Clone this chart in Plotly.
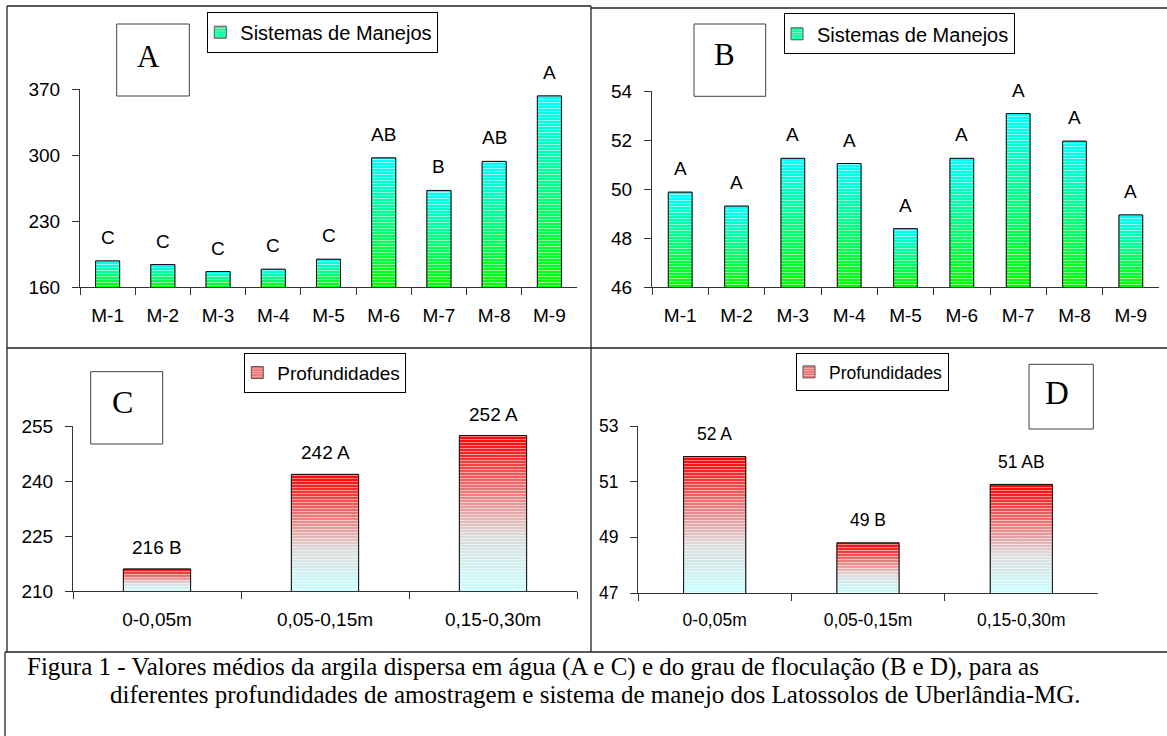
import plotly.graph_objects as go

W, H = 1167, 736

# ---------------- data ----------------
sistemas = ['M-1', 'M-2', 'M-3', 'M-4', 'M-5', 'M-6', 'M-7', 'M-8', 'M-9']
argila_sistemas = [187.6, 183.8, 176.4, 178.8, 189.4, 296.9, 262.4, 293.2, 362.6]
letras_argila_sistemas = ['C', 'C', 'C', 'C', 'C', 'AB', 'B', 'AB', 'A']
floculacao_sistemas = [49.87, 49.30, 51.25, 51.04, 48.38, 51.25, 53.08, 51.95, 48.94]
letras_floculacao_sistemas = ['A', 'A', 'A', 'A', 'A', 'A', 'A', 'A', 'A']

profundidades = ['0-0,05m', '0,05-0,15m', '0,15-0,30m']
argila_prof = [216.0, 241.8, 252.4]
letras_argila_prof = ['B', 'A', 'A']
floculacao_prof = [51.9, 48.8, 50.9]
letras_floculacao_prof = ['A', 'B', 'AB']

ticks_A = [160, 230, 300, 370]
ticks_B = [46, 48, 50, 52, 54]
ticks_C = [210, 225, 240, 255]
ticks_D = [47, 49, 51, 53]

caption_1 = ('Figura 1 - Valores médios da argila dispersa em água (A e C) e do grau '
             'de floculação (B e D), para as')
caption_2 = ('diferentes profundidades de amostragem e sistema de manejo dos '
             'Latossolos de Uberlândia-MG.')

SANS = 'Liberation Sans, Arial, sans-serif'
SERIF = 'Liberation Serif, Times New Roman, serif'

GREEN_CYAN = [[0, '#00ff00'], [1, '#00ffff']]
RED_CYAN = [[0, '#c8ffff'], [0.35, '#dcdcdc'], [1, '#ff0000']]


def fx(px):
    return px / W


def fy(py):
    return 1 - py / H


panels = [
    dict(cats=sistemas, vals=argila_sistemas, labels=letras_argila_sistemas,
         ticks=ticks_A, xd=(80, 577), yd=(89, 287), width=0.435,
         fs=19, cs=GREEN_CYAN, mid='#00ff99', name='Sistemas de Manejos',
         leg=(207.3, 11.7), legfs=20, gap=23.5, box=(116.7, 24, 189.3, 96),
         letter='A', lpos=(148, 56), lfs=31, show_value=False),
    dict(cats=sistemas, vals=floculacao_sistemas, labels=letras_floculacao_sistemas,
         ticks=ticks_B, xd=(652, 1159), yd=(91, 287), width=0.42,
         fs=19, cs=GREEN_CYAN, mid='#00ff99', name='Sistemas de Manejos',
         leg=(784, 13.3), legfs=20, gap=23.5, box=(694, 24, 765.7, 96.3),
         letter='B', lpos=(724.3, 55), lfs=31, show_value=False),
    dict(cats=profundidades, vals=argila_prof, labels=letras_argila_prof,
         ticks=ticks_C, xd=(73, 577), yd=(426, 591), width=0.40,
         fs=19, cs=RED_CYAN, mid='#f07070', name='Profundidades',
         leg=(244.3, 352.7), legfs=19, gap=21.5, box=(90.7, 371.7, 162.7, 444),
         letter='C', lpos=(122.7, 401.7), lfs=32, show_value=True),
    dict(cats=profundidades, vals=floculacao_prof, labels=letras_floculacao_prof,
         ticks=ticks_D, xd=(638, 1098), yd=(426, 593), width=0.405,
         fs=17.5, cs=RED_CYAN, mid='#f07070', name='Profundidades',
         leg=(796, 353), legfs=17.5, gap=22.7, box=(1029, 364.3, 1093.3, 429),
         letter='D', lpos=(1057.3, 393.3), lfs=33, show_value=True),
]


def stripes(bg):
    return dict(shape='-', fgcolor='white', bgcolor=bg, size=3,
                solidity=0.34, fillmode='overlay')


fig = go.Figure()
layout = dict(width=W, height=H,
              margin=dict(l=0, r=0, t=0, b=0, pad=0, autoexpand=False),
              paper_bgcolor='white', plot_bgcolor='rgba(0,0,0,0)',
              font=dict(family=SANS, color='black'), showlegend=True)
annotations = []
shapes = []

for k, p in enumerate(panels, start=1):
    kb = '' if k == 1 else str(k)          # base axes (gradient fills)
    ko = str(k + 4)                         # overlay axes (bars, ticks)
    ymin, ymax = p['ticks'][0], p['ticks'][-1]
    n = len(p['cats'])
    idx = list(range(n))
    leg_id = 'legend' if k == 1 else f'legend{k}'
    w = p['width']

    # base axes: hidden numeric axes holding the gradient fills
    layout['xaxis' + kb] = dict(domain=[fx(p['xd'][0]), fx(p['xd'][1])],
                                range=[-0.5, n - 0.5], visible=False,
                                anchor='y' + kb, fixedrange=True)
    layout['yaxis' + kb] = dict(domain=[fy(p['yd'][1]), fy(p['yd'][0])],
                                range=[ymin, ymax], visible=False,
                                anchor='x' + kb, fixedrange=True)
    # overlay axes: categorical axis with bars and visible ticks
    layout['xaxis' + ko] = dict(overlaying='x' + kb, anchor='y' + ko,
                                type='category', range=[-0.5, n - 0.5],
                                showline=True, linecolor='#333', linewidth=1,
                                ticks='outside', ticklen=7, tickcolor='#333',
                                tickson='boundaries', showgrid=False,
                                zeroline=False, ticklabelstandoff=11,
                                automargin=False,
                                tickfont=dict(size=p['fs'], family=SANS, color='black'),
                                fixedrange=True)
    layout['yaxis' + ko] = dict(overlaying='y' + kb, anchor='x' + ko,
                                range=[ymin, ymax], tickvals=p['ticks'],
                                showline=True, linecolor='#333', linewidth=1,
                                ticks='outside', ticklen=7, tickcolor='#333',
                                showgrid=False, zeroline=False,
                                ticklabelstandoff=8, automargin=False,
                                tickfont=dict(size=p['fs'], family=SANS, color='black'),
                                fixedrange=True)

    # legend entry: striped coloured bars lying underneath the gradient bodies
    fig.add_trace(go.Bar(
        x=idx, y=p['vals'], width=w,
        marker=dict(color=p['mid'], line=dict(color='#555', width=1),
                    pattern=stripes(p['mid'])),
        xaxis='x' + kb, yaxis='y' + kb, name=p['name'], legend=leg_id,
        hoverinfo='skip', showlegend=True))

    # gradient body of each bar
    for i, v in enumerate(p['vals']):
        fig.add_trace(go.Scatter(
            x=[i - w / 2, i + w / 2, i + w / 2, i - w / 2, i - w / 2],
            y=[ymin, ymin, v, v, ymin],
            fill='toself', mode='lines', line=dict(width=0, color=p['mid']),
            fillcolor=p['mid'],
            fillgradient=dict(type='vertical', colorscale=p['cs']),
            xaxis='x' + kb, yaxis='y' + kb, hoverinfo='skip',
            name=p['name'], legend=leg_id, showlegend=False))

    # bars: outline + white stripes on top of gradient
    fig.add_trace(go.Bar(
        x=p['cats'], y=p['vals'], width=w,
        marker=dict(color='rgba(0,0,0,0)', line=dict(color='#111', width=1),
                    pattern=stripes('rgba(0,0,0,0)')),
        xaxis='x' + ko, yaxis='y' + ko, name=p['name'], legend=leg_id,
        showlegend=False))

    # labels above bars
    for c, v, lab in zip(p['cats'], p['vals'], p['labels']):
        txt = f'{round(v)} {lab}' if p['show_value'] else lab
        annotations.append(dict(xref='x' + ko, yref='y' + ko, x=c, y=v,
                                yshift=p['gap'], text=txt, showarrow=False,
                                yanchor='middle', xanchor='center',
                                font=dict(size=p['fs'], family=SANS, color='black')))

    # legend
    layout[leg_id] = dict(x=fx(p['leg'][0]), y=fy(p['leg'][1]),
                          xanchor='left', yanchor='top', bgcolor='white',
                          bordercolor='black', borderwidth=1, itemwidth=30,
                          indentation=-8,
                          font=dict(size=p['legfs'], family=SANS, color='black'))

    # panel letter box
    bx0, by0, bx1, by1 = p['box']
    shapes.append(dict(type='rect', xref='paper', yref='paper',
                       x0=fx(bx0), x1=fx(bx1), y0=fy(by1), y1=fy(by0),
                       line=dict(color='#404040', width=1), fillcolor='white',
                       layer='above'))
    annotations.append(dict(xref='paper', yref='paper', x=fx(p['lpos'][0]),
                            y=fy(p['lpos'][1]), text=p['letter'], showarrow=False,
                            xanchor='center', yanchor='middle',
                            font=dict(size=p['lfs'], family=SERIF, color='black')))

# panel frames
frame = dict(color='#222', width=1.3)
for (x0, y0, x1, y1) in [
        (7, 6, 591, 6), (591, 8, 1167, 8), (7, 6, 7, 348), (591, 6, 591, 652),
        (7, 348, 1167, 348), (7, 348, 7, 652), (5, 652, 1167, 652),
        (5, 652, 5, 736)]:
    shapes.append(dict(type='line', xref='paper', yref='paper',
                       x0=fx(x0), x1=fx(x1), y0=fy(y0), y1=fy(y1), line=frame))

# caption
annotations.append(dict(xref='paper', yref='paper', x=fx(25), y=fy(667),
                        text=caption_1, showarrow=False, xanchor='left',
                        yanchor='middle', font=dict(size=25, family=SERIF, color='black')))
annotations.append(dict(xref='paper', yref='paper', x=fx(108), y=fy(694),
                        text=caption_2, showarrow=False, xanchor='left',
                        yanchor='middle', font=dict(size=25, family=SERIF, color='black')))

layout['annotations'] = annotations
layout['shapes'] = shapes
fig.update_layout(**layout)
fig.write_html('out.html', config={'displayModeBar': False},
               post_script="document.body.style.margin='0px';"
                           "document.body.style.padding='0px';"
                           "document.body.style.overflow='hidden';")
